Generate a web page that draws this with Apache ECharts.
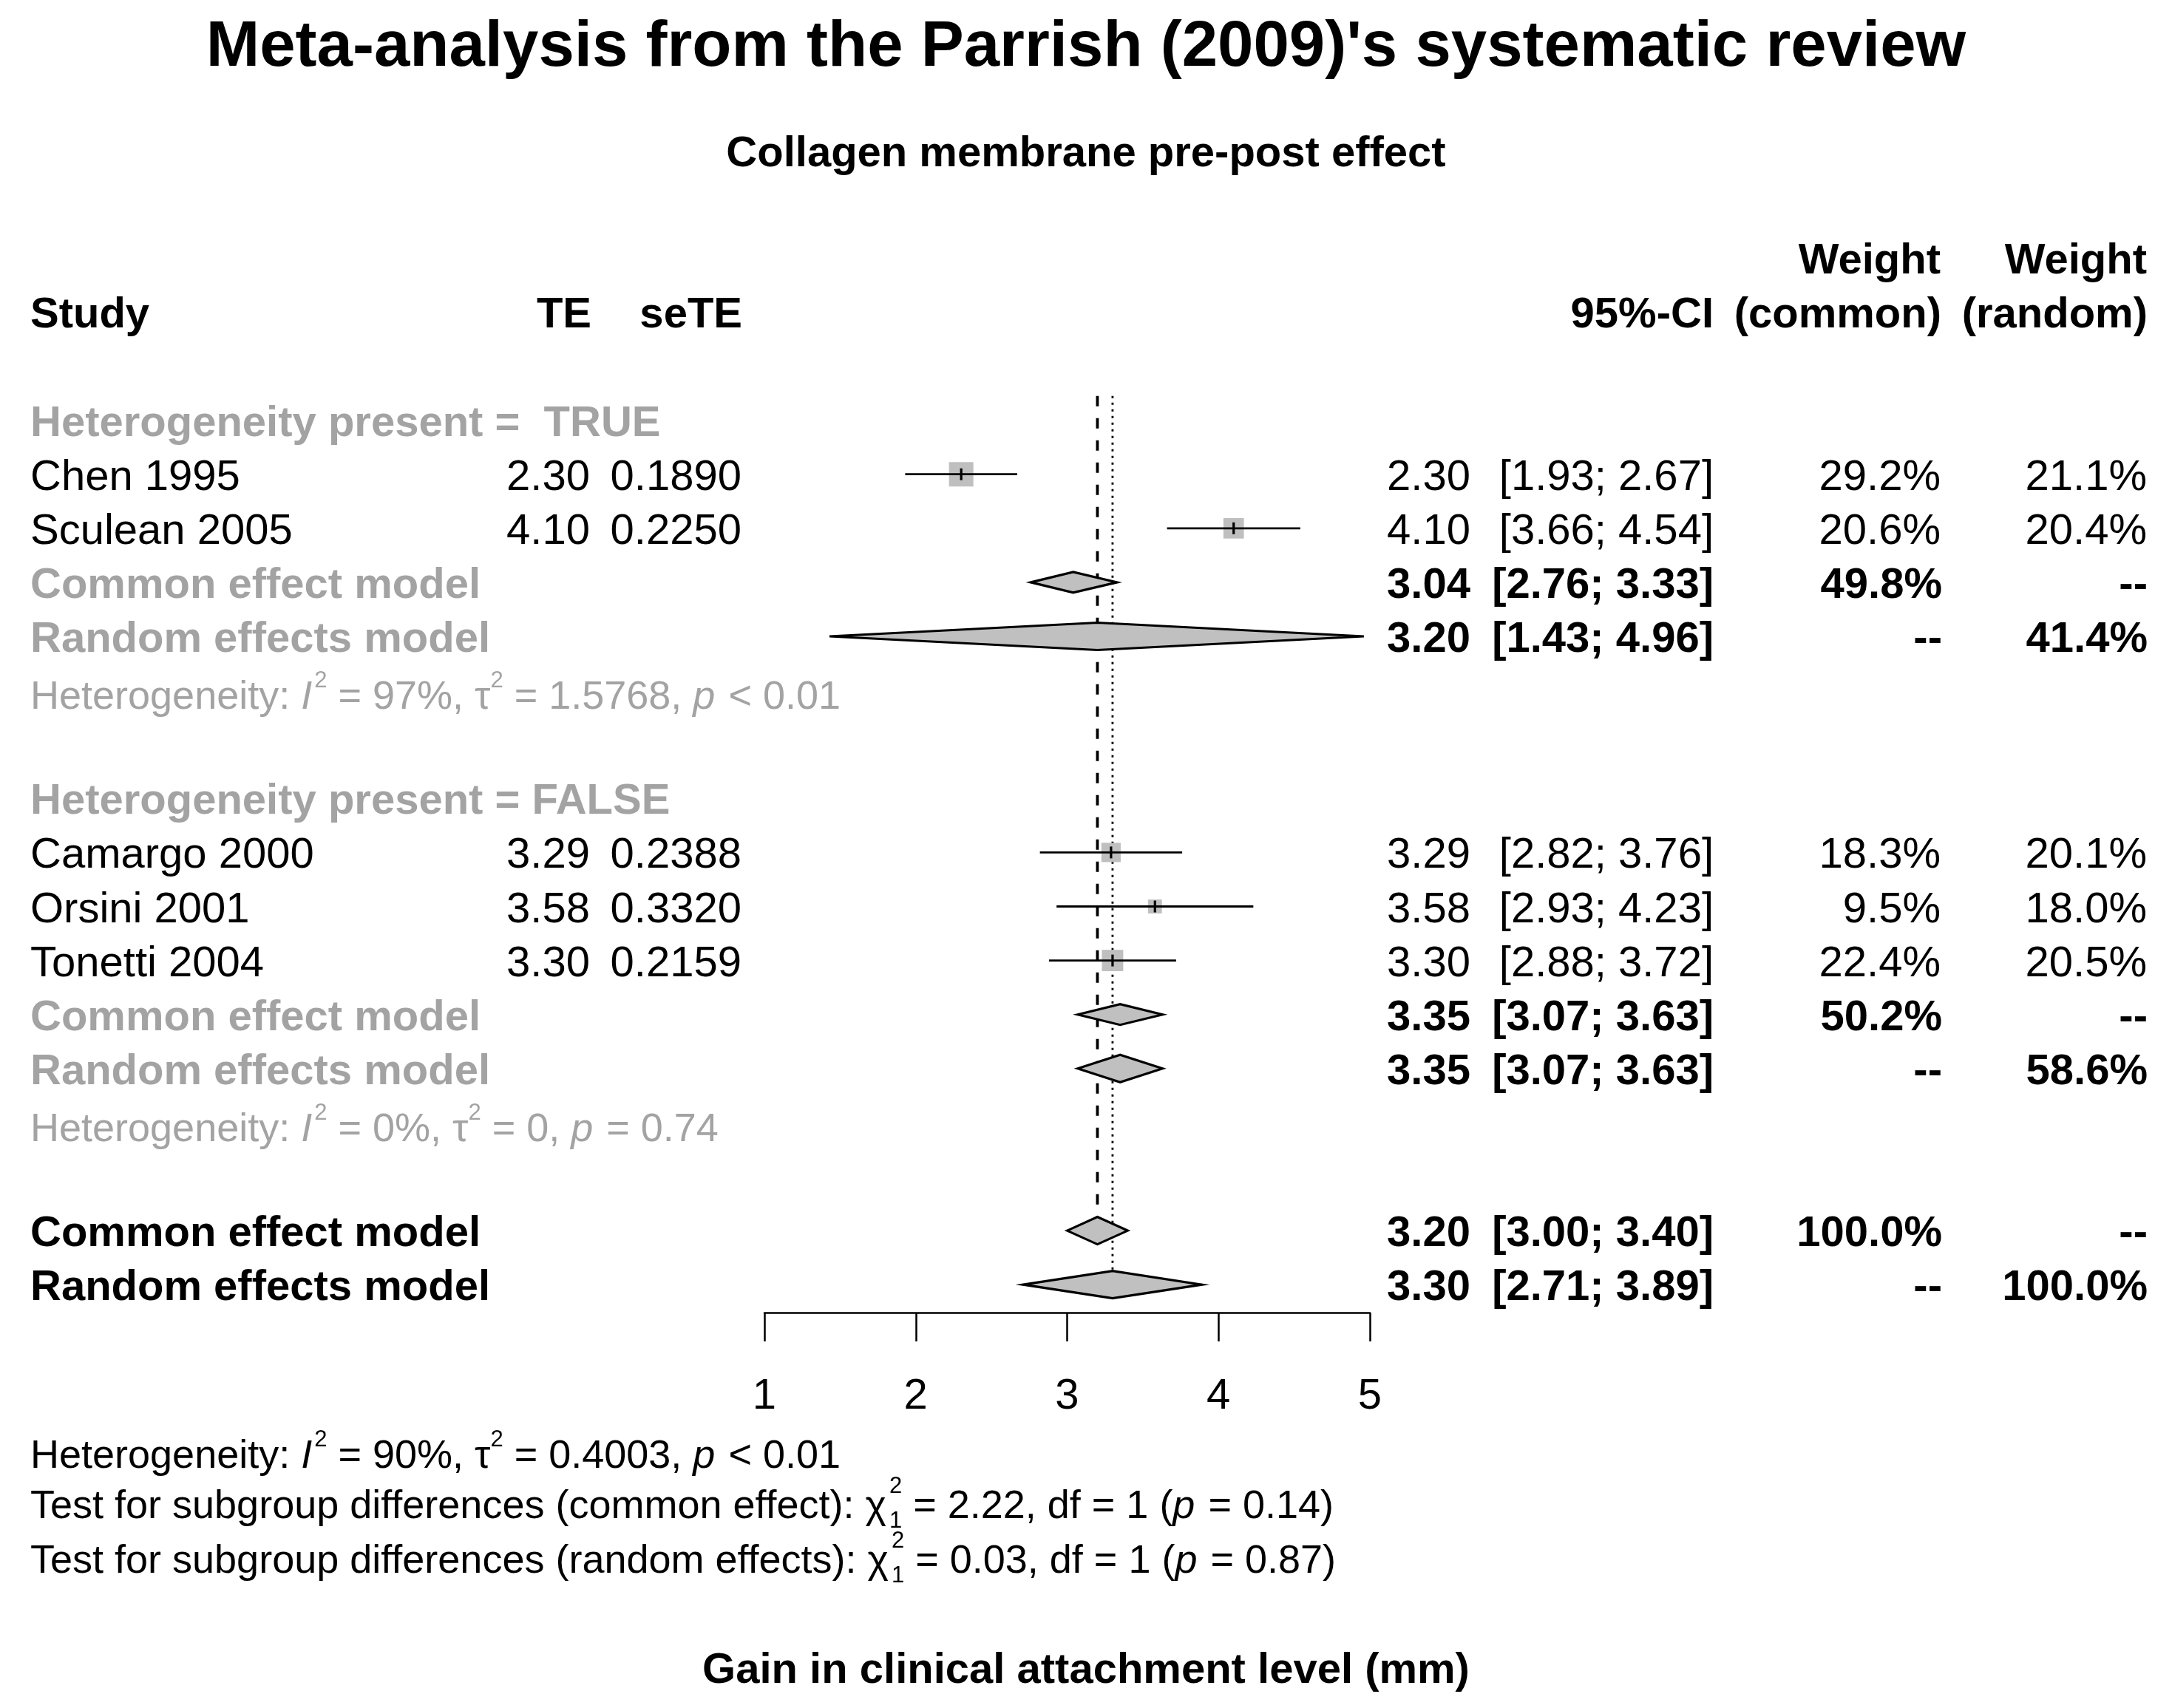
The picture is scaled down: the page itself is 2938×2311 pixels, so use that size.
<!DOCTYPE html>
<html>
<head>
<meta charset="utf-8">
<script src="https://cdn.jsdelivr.net/npm/echarts@6/dist/echarts.min.js"></script>
<style>
  html, body { margin: 0; padding: 0; background: #fff; }
  #chart { width: 2938px; height: 2311px; }
</style>
</head>
<body>
<div id="chart"></div>
<script>
// ---- data ----
var studyNames = ['Chen 1995', 'Sculean 2005', 'Camargo 2000', 'Orsini 2001', 'Tonetti 2004'];
var studyTE = [2.30, 4.10, 3.29, 3.58, 3.30];
var studySeTE = [0.1890, 0.2250, 0.2388, 0.3320, 0.2159];
var studyLower = [1.93, 3.66, 2.82, 2.93, 2.88];
var studyUpper = [2.67, 4.54, 3.76, 4.23, 3.72];
var studyWCommon = [29.2, 20.6, 18.3, 9.5, 22.4];
var studyWRandom = [21.1, 20.4, 20.1, 18.0, 20.5];
var studyRows = [1, 2, 8, 9, 10];

// pooled: subgroup TRUE (common, random), subgroup FALSE (common, random), overall (common, random)
var pooledLabels = ['Common effect model', 'Random effects model', 'Common effect model',
                    'Random effects model', 'Common effect model', 'Random effects model'];
var pooledEst = [3.04, 3.20, 3.35, 3.35, 3.20, 3.30];
var pooledLower = [2.76, 1.43, 3.07, 3.07, 3.00, 2.71];
var pooledUpper = [3.33, 4.96, 3.63, 3.63, 3.40, 3.89];
var pooledWCommon = [49.8, null, 50.2, null, 100.0, null];
var pooledWRandom = [null, 41.4, null, 58.6, null, 100.0];
var pooledRows = [3, 4, 11, 12, 15, 16];
var pooledOverall = [false, false, false, false, true, true];

var groupLabels = ['Heterogeneity present =  TRUE', 'Heterogeneity present = FALSE'];
var groupRows = [0, 7];

var hetI2 = ['97%', '0%', '90%'];
var hetTau2 = ['1.5768', '0', '0.4003'];
var hetP = ['< 0.01', '= 0.74', '< 0.01'];
var hetRows = [5.07, 13.07, 19.12];

var testLabels = ['common effect', 'random effects'];
var testChi2 = ['2.22', '0.03'];
var testDf = ['1', '1'];
var testP = ['0.14', '0.87'];
var testRows = [20.05, 21.06];

var xTicks = [1, 2, 3, 4, 5];

// ---- layout ----
var FAMILY = '"Liberation Sans", Arial, Helvetica, sans-serif';
var FS = 58;
var SMALL_FS = 54;
var SCRIPT_FS = 31;
var TEXT_DY = 5;
var GRAY = '#a3a3a3';
var ROW0_Y = 568.6, ROW_H = 73.1, AXIS_Y = 1776;
var Y_MIN = -3.5;
var Y_MAX = (AXIS_Y - ROW0_Y) / ROW_H;
var X_LEFT = 1034, X_RIGHT = 1853;

var COL = {
  label: 41, te: 798, sete: 1003, est: 1989, ci: 2318, wc: 2625, wr: 2904
};

var measureCtx = document.createElement('canvas').getContext('2d');
function measure(text, style, weight, size) {
  measureCtx.font = style + ' ' + weight + ' ' + size + 'px ' + FAMILY;
  return measureCtx.measureText(text).width;
}

function cell(text, x, align, bold, color) {
  return { t: text, x: x, align: align, bold: bold, color: color || '#000' };
}

function pct(v) { return v == null ? '--' : v.toFixed(1) + '%'; }
function ci(lo, hi) { return '[' + lo.toFixed(2) + '; ' + hi.toFixed(2) + ']'; }

// rows of table text, each { row, cells } or { row, segs }
var textRows = [];
textRows.push({ row: -3, cells: [
  cell('Weight', COL.wc, 'right', true), cell('Weight', COL.wr, 'right', true)] });
textRows.push({ row: -2, cells: [
  cell('Study', COL.label, 'left', true), cell('TE', COL.te + 2, 'right', true),
  cell('seTE', COL.sete + 1, 'right', true), cell('95%-CI', COL.ci, 'right', true),
  cell('(common)', COL.wc + 1, 'right', true), cell('(random)', COL.wr + 1, 'right', true)] });

groupLabels.forEach(function (g, i) {
  textRows.push({ row: groupRows[i], cells: [cell(g, COL.label, 'left', true, GRAY)] });
});

studyNames.forEach(function (n, i) {
  textRows.push({ row: studyRows[i], cells: [
    cell(n, COL.label, 'left', false),
    cell(studyTE[i].toFixed(2), COL.te, 'right', false),
    cell(studySeTE[i].toFixed(4), COL.sete, 'right', false),
    cell(studyTE[i].toFixed(2), COL.est, 'right', false),
    cell(ci(studyLower[i], studyUpper[i]), COL.ci, 'right', false),
    cell(pct(studyWCommon[i]), COL.wc, 'right', false),
    cell(pct(studyWRandom[i]), COL.wr, 'right', false)] });
});

pooledLabels.forEach(function (n, i) {
  textRows.push({ row: pooledRows[i], cells: [
    cell(n, COL.label, 'left', true, pooledOverall[i] ? '#000' : GRAY),
    cell(pooledEst[i].toFixed(2), COL.est, 'right', true),
    cell(ci(pooledLower[i], pooledUpper[i]), COL.ci, 'right', true),
    cell(pct(pooledWCommon[i]), COL.wc + 2, 'right', true),
    cell(pct(pooledWRandom[i]), COL.wr + 1, 'right', true)] });
});

hetI2.forEach(function (v, i) {
  textRows.push({ row: hetRows[i], x: COL.label, color: i < 2 ? GRAY : '#000', segs: [
    { t: 'Heterogeneity: ' }, { t: 'I', k: 'i' }, { t: '2', k: 'sup' },
    { t: ' = ' + v + ', ' }, { t: '\u03c4' }, { t: '2', k: 'sup' },
    { t: ' = ' + hetTau2[i] + ', ' }, { t: 'p', k: 'i' }, { t: ' ' + hetP[i] }] });
});

testLabels.forEach(function (lab, i) {
  textRows.push({ row: testRows[i], x: COL.label, color: '#000', segs: [
    { t: 'Test for subgroup differences (' + lab + '): ' }, { t: '\u03c7', gap: 4 },
    { t: '2', k: 'sup', dy: -28 }, { t: testDf[i], k: 'sub', stack: true, dy: 19 },
    { t: ' = ' + testChi2[i] + ', df = ' + testDf[i] + ' (' }, { t: 'p', k: 'i' },
    { t: ' = ' + testP[i] + ')' }] });
});

function segTexts(segs, x0, y, color) {
  var out = [], x = x0, supX = x0;
  segs.forEach(function (s) {
    var script = s.k === 'sup' || s.k === 'sub';
    var size = script ? SCRIPT_FS : SMALL_FS;
    var fstyle = s.k === 'i' ? 'italic' : 'normal';
    var dy = s.dy != null ? s.dy : (s.k === 'sup' ? -23 : (s.k === 'sub' ? 19 : 0));
    var sx = (s.k === 'sub' && s.stack) ? supX : x;
    out.push({
      type: 'text',
      style: { text: s.t, x: sx, y: y + dy, fill: color, fontSize: size, fontStyle: fstyle,
               fontFamily: FAMILY, align: 'left', verticalAlign: 'middle' }
    });
    var w = measure(s.t, fstyle, 'normal', size);
    if (s.k === 'sup') supX = x;
    if (s.k === 'sub' && s.stack) x = Math.max(x, sx + w);
    else x += w + (s.k === 'i' ? 3 : 0) + (s.gap || 0);
  });
  return out;
}

var maxW = Math.max.apply(null, studyWCommon);
var SQUARE_MAX = 33;
function diamondHeight(i) {
  return (!pooledOverall[i] && i % 2 === 0) ? 28 : 37;
}

var chart = echarts.init(document.getElementById('chart'), null, { renderer: 'canvas' });

var option = {
  animation: false,
  backgroundColor: '#fff',
  title: [
    { text: "Meta-analysis from the Parrish (2009)'s systematic review", left: 'center', top: 22, padding: 0,
      textStyle: { fontSize: 87, fontWeight: 'bold', fontFamily: FAMILY, color: '#000' } },
    { text: 'Collagen membrane pre-post effect', left: 'center', top: 180, padding: 0,
      textStyle: { fontSize: FS, fontWeight: 'bold', fontFamily: FAMILY, color: '#000' } },
    { text: 'Gain in clinical attachment level (mm)', left: 'center', top: 2232, padding: 0,
      textStyle: { fontSize: FS, fontWeight: 'bold', fontFamily: FAMILY, color: '#000' } }
  ],
  grid: {
    left: X_LEFT, width: X_RIGHT - X_LEFT,
    top: ROW0_Y + Y_MIN * ROW_H, height: (Y_MAX - Y_MIN) * ROW_H,
    containLabel: false
  },
  xAxis: {
    type: 'value', min: xTicks[0], max: xTicks[xTicks.length - 1], interval: 1,
    splitLine: { show: false },
    axisLine: { onZero: false, lineStyle: { color: '#000', width: 2.5 } },
    axisTick: { length: 39, lineStyle: { color: '#000', width: 2.5 } },
    axisLabel: { fontSize: FS, color: '#000', fontFamily: FAMILY, margin: 85,
                 showMinLabel: true, showMaxLabel: true }
  },
  yAxis: {
    type: 'value', inverse: true, min: Y_MIN, max: Y_MAX, show: false
  },
  series: [
    {
      // reference lines (common: dashed, random: dotted)
      type: 'custom', z: 1, clip: false,
      data: [[pooledEst[4], -0.45, 4, 0], [pooledEst[5], -0.45, 5, 1]],
      renderItem: function (params, api) {
        var k = api.value(2);
        var top = api.coord([api.value(0), api.value(1)]);
        var bot = api.coord([api.value(0), pooledRows[k]]);
        var dotted = api.value(3) === 1;
        return {
          type: 'line',
          shape: { x1: top[0], y1: top[1], x2: bot[0], y2: bot[1] - diamondHeight(k) / 2 },
          style: { stroke: '#000', lineWidth: dotted ? 2.8 : 3.8, lineDash: dotted ? [3, 6] : [14, 16] }
        };
      }
    },
    {
      // individual studies
      type: 'custom', z: 2, clip: false,
      data: studyTE.map(function (v, i) {
        return [v, studyLower[i], studyUpper[i], studyRows[i], studyWCommon[i]];
      }),
      encode: { x: [0, 1, 2], y: 3 },
      renderItem: function (params, api) {
        var row = api.value(3);
        var c = api.coord([api.value(0), row]);
        var lo = api.coord([api.value(1), row]);
        var hi = api.coord([api.value(2), row]);
        var side = SQUARE_MAX * Math.sqrt(api.value(4) / maxW);
        return {
          type: 'group',
          children: [
            { type: 'rect', shape: { x: c[0] - side / 2, y: c[1] - side / 2, width: side, height: side },
              style: { fill: '#bfbfbf' } },
            { type: 'line', shape: { x1: lo[0], y1: c[1], x2: hi[0], y2: c[1] },
              style: { stroke: '#000', lineWidth: 2.8 } },
            { type: 'line', shape: { x1: c[0], y1: c[1] - 8, x2: c[0], y2: c[1] + 8 },
              style: { stroke: '#000', lineWidth: 3.2 } }
          ]
        };
      }
    },
    {
      // pooled diamonds
      type: 'custom', z: 3, clip: false,
      data: pooledEst.map(function (v, i) {
        return [v, pooledLower[i], pooledUpper[i], pooledRows[i], i];
      }),
      encode: { x: [0, 1, 2], y: 3 },
      renderItem: function (params, api) {
        var row = api.value(3);
        var h = diamondHeight(api.value(4)) / 2;
        var c = api.coord([api.value(0), row]);
        var lo = api.coord([api.value(1), row]);
        var hi = api.coord([api.value(2), row]);
        return {
          type: 'polygon',
          shape: { points: [[lo[0], c[1]], [c[0], c[1] - h], [hi[0], c[1]], [c[0], c[1] + h]] },
          style: { fill: '#c0c0c0', stroke: '#000', lineWidth: 3.2 }
        };
      }
    },
    {
      // table text
      type: 'custom', z: 4, clip: false, silent: true,
      data: textRows.map(function (r, i) { return [1, r.row, i]; }),
      renderItem: function (params, api) {
        var r = textRows[api.value(2)];
        var y = api.coord([1, api.value(1)])[1] + TEXT_DY;
        var children;
        if (r.segs) {
          children = segTexts(r.segs, r.x, y, r.color);
        } else {
          children = r.cells.map(function (c) {
            return {
              type: 'text',
              style: { text: c.t, x: c.x, y: y, fill: c.color, fontSize: FS,
                       fontWeight: c.bold ? 'bold' : 'normal', fontFamily: FAMILY,
                       align: c.align, verticalAlign: 'middle' }
            };
          });
        }
        return { type: 'group', children: children };
      }
    }
  ]
};

chart.setOption(option);
</script>
</body>
</html>
